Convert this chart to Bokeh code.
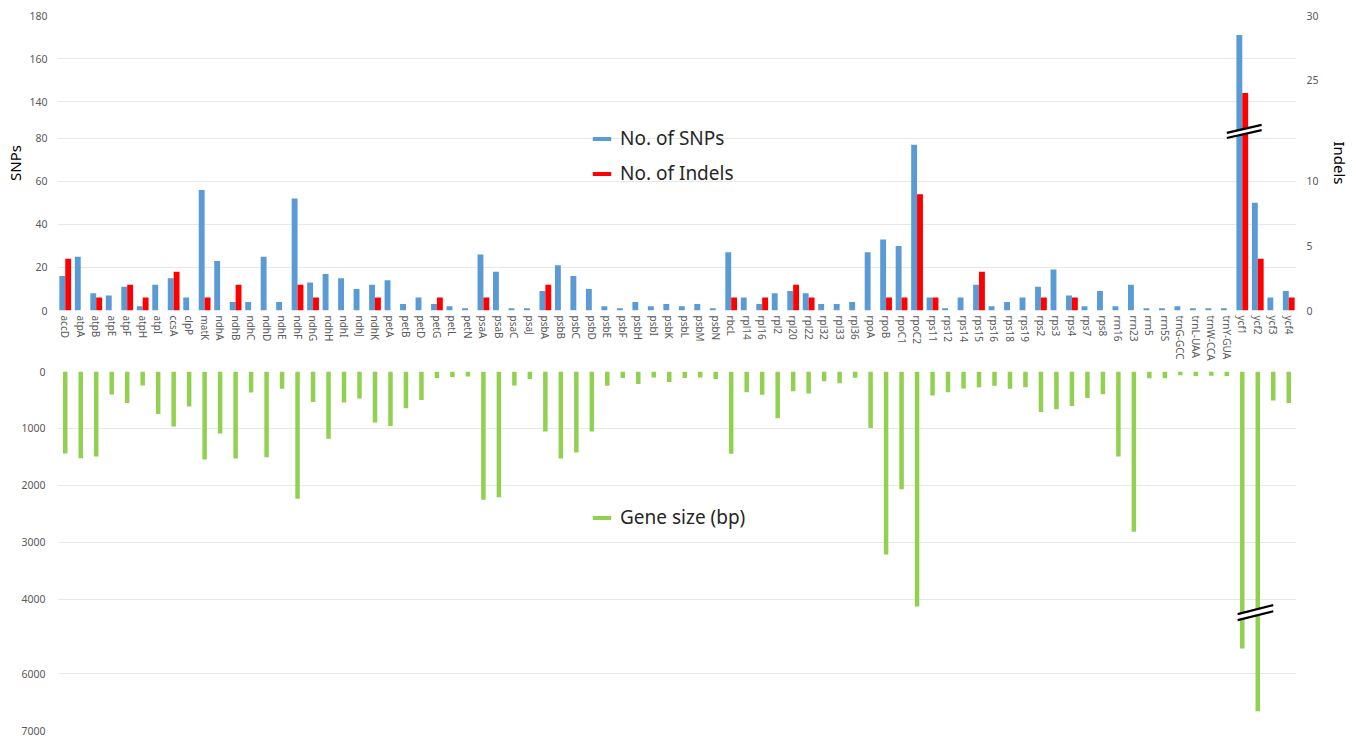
from bokeh.plotting import figure
from bokeh.models import (ColumnDataSource, FactorRange, Range1d, FixedTicker, LinearAxis,
                          Legend, LegendItem)
from bokeh.transform import dodge
from bokeh.layouts import column
from bokeh.embed import file_html
from bokeh.resources import INLINE

# ---------------- data ----------------
genes = ["accD", "atpA", "atpB", "atpE", "atpF", "atpH", "atpI", "ccsA", "clpP", "matK",
         "ndhA", "ndhB", "ndhC", "ndhD", "ndhE", "ndhF", "ndhG", "ndhH", "ndhI", "ndhJ",
         "ndhK", "petA", "petB", "petD", "petG", "petL", "petN", "psaA", "psaB", "psaC",
         "psaJ", "psbA", "psbB", "psbC", "psbD", "psbE", "psbF", "psbH", "psbI", "psbK",
         "psbL", "psbM", "psbN", "rbcL", "rpl14", "rpl16", "rpl2", "rpl20", "rpl22", "rpl32",
         "rpl33", "rpl36", "rpoA", "rpoB", "rpoC1", "rpoC2", "rps11", "rps12", "rps14", "rps15",
         "rps16", "rps18", "rps19", "rps2", "rps3", "rps4", "rps7", "rps8", "rrn16", "rrn23",
         "rrn5", "rrn5S", "trnG-GCC", "trnL-UAA", "trnW-CCA", "trnY-GUA", "ycf1", "ycf2", "ycf3", "ycf4"]

snps = [16, 25, 8, 7, 11, 2, 12, 15, 6, 56,
        23, 4, 4, 25, 4, 52, 13, 17, 15, 10,
        12, 14, 3, 6, 3, 2, 1, 26, 18, 1,
        1, 9, 21, 16, 10, 2, 1, 4, 2, 3,
        2, 3, 1, 27, 6, 3, 8, 9, 8, 3,
        3, 4, 27, 33, 30, 77, 6, 1, 6, 12,
        2, 4, 6, 11, 19, 7, 2, 9, 2, 12,
        1, 1, 2, 1, 1, 1, 171, 50, 6, 9]

indel_genes = ["accD", "atpB", "atpF", "atpH", "ccsA", "matK", "ndhB", "ndhF", "ndhG", "ndhK",
               "petG", "psaA", "psbA", "rbcL", "rpl16", "rpl20", "rpl22", "rpoB", "rpoC1", "rpoC2",
               "rps11", "rps15", "rps2", "rps4", "ycf1", "ycf2", "ycf4"]
indels = [4, 1, 2, 1, 3, 1, 2, 2, 1, 1,
          1, 1, 2, 1, 1, 2, 1, 1, 1, 9,
          1, 3, 1, 1, 24, 4, 1]

gene_size = [1440, 1525, 1495, 405, 555, 245, 745, 965, 615, 1545,
             1090, 1530, 370, 1505, 305, 2235, 535, 1180, 545, 475,
             895, 960, 645, 500, 115, 95, 90, 2255, 2210, 245,
             130, 1055, 1530, 1425, 1055, 250, 115, 220, 105, 185,
             115, 105, 130, 1445, 365, 410, 820, 345, 385, 170,
             205, 110, 995, 3215, 2070, 4130, 420, 365, 300, 275,
             250, 305, 275, 710, 665, 605, 465, 400, 1495, 2815,
             120, 120, 65, 80, 75, 80, 5560, 6660, 510, 555]

snp_ticks = [0, 20, 40, 60, 80, 140, 160, 180]
indel_ticks = [0, 5, 10, 25, 30]
size_ticks = [0, 1000, 2000, 3000, 4000, 6000, 7000]

# ---------------- broken-axis transforms ----------------
SNP_CUT = 43        # SNP values above the break are shifted down by this
INDEL_SCALE = 6     # one indel = 6 SNP-axis units
SIZE_CUT = 690      # gene sizes above the break are shifted by this


def snp_disp(v):
    return v if v <= 100 else v - SNP_CUT


def indel_disp(v):
    return INDEL_SCALE * v if v <= 14 else INDEL_SCALE * v - SNP_CUT


def size_disp(v):
    return v if v <= 4500 else v - SIZE_CUT


FONT = "Noto Sans"
TICK_COLOR = "#595959"
BLUE, RED, GREEN = "#5B9BD5", "#FF0000", "#92D050"
GRID = "#E8E8E8"
W = 1352

x_range = FactorRange(factors=genes, range_padding=0)

# ---------------- top panel ----------------
p1 = figure(x_range=x_range, y_range=Range1d(0, snp_disp(180)), width=W, height=363,
            output_backend="svg", toolbar_location=None,
            min_border_left=57, min_border_right=53, min_border_top=15, min_border_bottom=50)
p1.outline_line_color = None

src = ColumnDataSource(dict(g=genes, snp=[snp_disp(v) for v in snps],
                            size=[size_disp(v) for v in gene_size]))
isrc = ColumnDataSource(dict(g=indel_genes, ind=[indel_disp(v) for v in indels]))

r_snp = p1.vbar(x=dodge('g', -0.19, range=x_range), top='snp', width=0.38, source=src,
                fill_color=BLUE, line_color=None)
r_ind = p1.vbar(x=dodge('g', 0.19, range=x_range), top='ind', width=0.38, source=isrc,
                fill_color=RED, line_color=None)

left_ticker = FixedTicker(ticks=[snp_disp(t) for t in snp_ticks])
p1.yaxis[0].ticker = left_ticker
p1.yaxis[0].major_label_overrides = {snp_disp(t): str(t) for t in snp_ticks}
p1.yaxis[0].axis_label = "SNPs"
p1.ygrid.ticker = left_ticker
p1.ygrid.grid_line_color = GRID
p1.xgrid.visible = False

ax_r = LinearAxis(ticker=FixedTicker(ticks=[indel_disp(t) for t in indel_ticks]),
                  axis_label="Indels")
ax_r.major_label_overrides = {indel_disp(t): str(t) for t in indel_ticks}
p1.add_layout(ax_r, "right")

for ax in [p1.yaxis[0], ax_r]:
    ax.axis_line_color = None
    ax.major_tick_line_color = None
    ax.minor_tick_line_color = None
    ax.major_tick_out = 0
    ax.major_tick_in = 0
    ax.minor_tick_out = 0
    ax.major_label_text_color = TICK_COLOR
    ax.major_label_text_font = FONT
    ax.major_label_text_font_size = "10.5px"
    ax.major_label_standoff = 10
    ax.axis_label_text_font = FONT
    ax.axis_label_text_font_size = "15px"
    ax.axis_label_text_font_style = "normal"
    ax.axis_label_text_color = "#000000"
p1.yaxis[0].axis_label_standoff = 1
ax_r.axis_label_standoff = 8

xa = p1.xaxis[0]
xa.axis_line_color = None
xa.major_tick_line_color = None
xa.minor_tick_line_color = None
xa.major_tick_out = 0
xa.major_tick_in = 0
xa.minor_tick_out = 0
xa.major_label_orientation = "vertical"
xa.major_label_text_font = FONT
xa.major_label_text_font_size = "10px"
xa.major_label_text_color = TICK_COLOR
xa.major_label_standoff = 5

# break symbol on ycf1 (top)
brk_top_lo, brk_top_hi = 81.3, 85.0
brk1 = ColumnDataSource(dict(g=["ycf1"] * 3,
                             y0=[brk_top_lo, brk_top_lo + 1.2, brk_top_lo - 1.2],
                             y1=[brk_top_hi, brk_top_hi + 1.2, brk_top_hi - 1.2],
                             c=["white", "black", "black"], w=[5, 2.2, 2.2]))
p1.segment(x0=dodge('g', -1.0, range=x_range), x1=dodge('g', 1.25, range=x_range),
           y0='y0', y1='y1', line_color='c', line_width='w', source=brk1)

leg1 = Legend(items=[LegendItem(label="No. of SNPs", renderers=[r_snp]),
                     LegendItem(label="No. of Indels", renderers=[r_ind])],
              location=(533, 124), orientation="vertical", padding=0, margin=0, spacing=9,
              glyph_width=23, glyph_height=5, label_standoff=7,
              label_text_font=FONT, label_text_font_size="19px", label_text_color="#262626",
              border_line_color=None, background_fill_alpha=0)
p1.add_layout(leg1)

# ---------------- bottom panel ----------------
p2 = figure(x_range=x_range, y_range=Range1d(size_disp(7000), 0), width=W, height=375,
            output_backend="svg", toolbar_location=None, x_axis_location=None,
            min_border_left=57, min_border_right=53, min_border_top=8, min_border_bottom=8)
p2.outline_line_color = None

r_size = p2.vbar(x='g', top='size', bottom=0, width=0.29, source=src,
                 fill_color=GREEN, line_color=None)

size_ticker = FixedTicker(ticks=[size_disp(t) for t in size_ticks])
ya = p2.yaxis[0]
ya.ticker = size_ticker
ya.major_label_overrides = {size_disp(t): str(t) for t in size_ticks}
ya.axis_line_color = None
ya.major_tick_line_color = None
ya.minor_tick_line_color = None
ya.major_tick_out = 0
ya.major_tick_in = 0
ya.minor_tick_out = 0
ya.major_label_text_color = TICK_COLOR
ya.major_label_text_font = FONT
ya.major_label_text_font_size = "10.5px"
ya.major_label_standoff = 12
p2.ygrid.ticker = size_ticker
p2.ygrid.grid_line_color = GRID
p2.xgrid.visible = False

# break symbol on ycf1/ycf2 (bottom)
brk_bot_lo, brk_bot_hi = 4318, 4160
brk2 = ColumnDataSource(dict(g=["ycf1"] * 3,
                             y0=[brk_bot_lo, brk_bot_lo - 53, brk_bot_lo + 53],
                             y1=[brk_bot_hi, brk_bot_hi - 53, brk_bot_hi + 53],
                             c=["white", "black", "black"], w=[5, 2.2, 2.2]))
p2.segment(x0=dodge('g', -0.3, range=x_range), x1=dodge('g', 2.0, range=x_range),
           y0='y0', y1='y1', line_color='c', line_width='w', source=brk2)

leg2 = Legend(items=[LegendItem(label="Gene size (bp)", renderers=[r_size])],
              location=(533, 200), orientation="vertical", padding=0, margin=0,
              glyph_width=23, glyph_height=5, label_standoff=7,
              label_text_font=FONT, label_text_font_size="19px", label_text_color="#262626",
              border_line_color=None, background_fill_alpha=0)
p2.add_layout(leg2)

layout = column(p1, p2, spacing=0)
open("out.html", "w").write(file_html(layout, INLINE, title="SNPs, Indels and gene size"))
